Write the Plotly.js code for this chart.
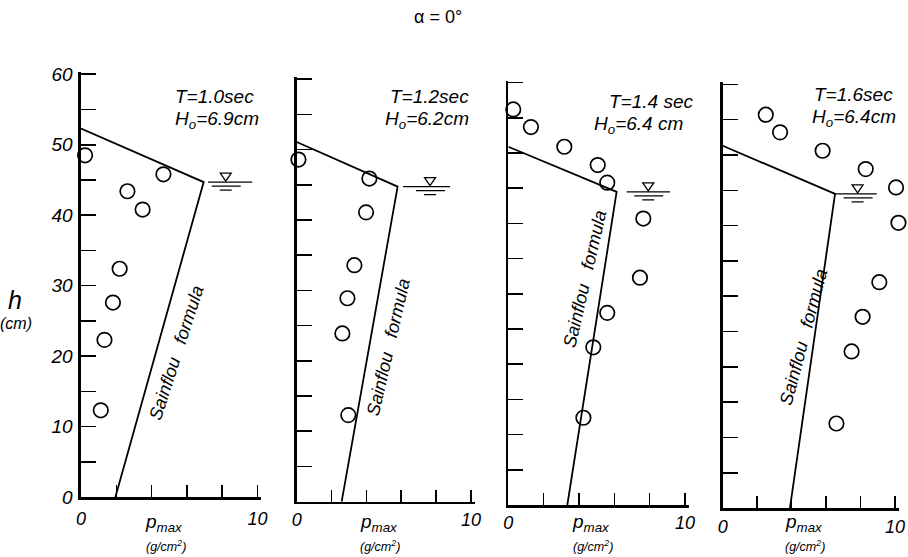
<!DOCTYPE html>
<html><head><meta charset="utf-8">
<script src="https://cdn.plot.ly/plotly-3.0.1.min.js"></script>
<style>html,body{margin:0;padding:0;background:#fff}</style>
</head><body><div id="chart" style="width:908px;height:557px"></div>
<script>
// ---- data ----
const chartTitle = 'α = 0°';
const periods = ['T=1.0sec', 'T=1.2sec', 'T=1.4 sec', 'T=1.6sec'];
const waveHeights = ['6.9cm', '6.2cm', '6.4 cm', '6.4cm'];
// measured maximum pressure p_max (g/cm2) at height h (cm)
const p1 = [0.23, 4.67, 2.63, 3.49, 2.19, 1.81, 1.33, 1.12];
const h1 = [48.5, 45.8, 43.4, 40.8, 32.4, 27.6, 22.3, 12.3];
const p2 = [0.1, 4.17, 3.98, 3.31, 2.91, 2.62, 2.96];
const h2 = [48.6, 45.9, 41.1, 33.6, 28.9, 23.9, 12.3];
const p3 = [0.28, 1.28, 3.17, 5.06, 5.6, 7.64, 7.45, 5.6, 4.81, 4.25];
const h3 = [56.2, 53.7, 50.9, 48.3, 45.8, 40.7, 32.3, 27.3, 22.4, 12.4];
const p4 = [2.5, 3.33, 5.8, 8.3, 10.06, 10.2, 9.09, 8.12, 7.48, 6.6];
const h4 = [55.7, 53.2, 50.6, 48.0, 45.4, 40.4, 32.0, 27.1, 22.2, 12.0];
// Sainflou formula: crest height (p=0), pressure at still-water level, pressure at bottom
const sainflouTopH = [52.3, 51.1, 50.9, 51.3];
const sainflouSwlP = [6.95, 5.79, 6.13, 6.52];
const sainflouSwlH = [44.7, 44.75, 44.5, 44.5];
const sainflouBottomP = [1.95, 2.58, 3.34, 3.9];
// still-water-level symbol
const swlLineStart = [7.2, 6.1, 6.7, 6.52];
const swlLineEnd = [9.7, 8.8, 9.15, 8.94];
const swlMark = [8.2, 7.65, 7.92, 7.83];
// axis ticks
const xTickVals = [0, 10];
const xTickText = ['0', '10'];
const xMinorStep = 2;
const yTickVals = [0, 10, 20, 30, 40, 50, 60];
const yTickText = ['0', '10', '20', '30', '40', '50', '60'];
const yMinorStep = 5;
const sainflouLabel = 'Sainflou\u00a0\u00a0\u00a0formula';

const P = [p1, p2, p3, p4];
const H = [h1, h2, h3, h4];

// ---- layout geometry (pixels on the 908x557 canvas) ----
const W = 908, HT = 557;
const panelX = [[81, 257.5], [296.7, 471], [508.3, 685], [722.7, 895]];
const panelY = [[74.3, 497], [79.3, 501.7], [82.7, 505], [84.3, 508.3]];
const tLabel = [[173, 96], [388, 96], [607, 102], [812, 95]];
const hLabel = [[173, 120], [383, 120], [592, 125], [810, 118]];
const sainPos = [[5.42, 20.4, -72], [5.26, 22.0, -77], [4.34, 32.1, -77], [4.68, 24.3, -75]];
const XMAX = 10.22, YMAX = 60.3;   // small overshoot so the end ticks and edge points are drawn

const fam = 'Liberation Sans, Arial, sans-serif';
const traces = [];
const layout = {
  width: W, height: HT,
  margin: {l: 0, r: 0, t: 0, b: 0},
  paper_bgcolor: '#fff', plot_bgcolor: 'rgba(0,0,0,0)',
  showlegend: false,
  font: {family: fam, color: '#000'},
  annotations: [], shapes: []
};

function note(o) {
  layout.annotations.push(Object.assign({showarrow: false, xanchor: 'center', yanchor: 'middle'}, o));
}

for (let i = 0; i < 4; i++) {
  const sx = i === 0 ? '' : String(i + 1);
  const xa = 'x' + sx, ya = 'y' + sx;
  const pxPerX = (panelX[i][1] - panelX[i][0]) / 10;
  const pxPerY = (panelY[i][1] - panelY[i][0]) / 60;
  layout['xaxis' + sx] = {
    domain: [panelX[i][0] / W, (panelX[i][1] + (XMAX - 10) * pxPerX) / W], range: [0, XMAX], anchor: ya,
    showline: true, linewidth: 2.6, linecolor: '#000',
    ticks: 'inside', ticklen: 12, tickwidth: 1.6, tickcolor: '#000',
    tickmode: 'array', tickvals: xTickVals, ticktext: xTickText,
    minor: {ticks: 'inside', ticklen: 12, tickwidth: 1.6, tickcolor: '#000', dtick: xMinorStep, tick0: 0, showgrid: false},
    tickfont: {size: 18, style: 'italic', family: fam, color: '#000'},
    ticklabelstandoff: Math.max(0, 514 - panelY[i][1] - 13),
    showgrid: false, zeroline: false, fixedrange: true
  };
  layout['yaxis' + sx] = {
    domain: [1 - panelY[i][1] / HT, 1 - (panelY[i][0] - (YMAX - 60) * pxPerY) / HT], range: [0, YMAX], anchor: xa,
    showline: true, linewidth: 2.6, linecolor: '#000',
    ticks: 'inside', ticklen: 15, tickwidth: 1.6, tickcolor: '#000',
    tickmode: 'array', tickvals: yTickVals, ticktext: yTickText,
    minor: {ticks: 'inside', ticklen: 15, tickwidth: 1.6, tickcolor: '#000', dtick: yMinorStep, tick0: 0, showgrid: false},
    showticklabels: i === 0, ticklabelstandoff: 2,
    tickfont: {size: 19, style: 'italic', family: fam, color: '#000'},
    showgrid: false, zeroline: false, fixedrange: true
  };
  // Sainflou line
  traces.push({
    type: 'scatter', mode: 'lines', xaxis: xa, yaxis: ya,
    x: [0, sainflouSwlP[i], sainflouBottomP[i]],
    y: [sainflouTopH[i], sainflouSwlH[i], 0],
    line: {color: '#000', width: 1.8}, cliponaxis: false, hoverinfo: 'skip'
  });
  // measurements
  traces.push({
    type: 'scatter', mode: 'markers', xaxis: xa, yaxis: ya,
    x: P[i], y: H[i],
    marker: {symbol: 'circle-open', size: 14.5, color: '#000', line: {width: 1.7, color: '#000'}},
    cliponaxis: false
  });
  // still water level symbol
  layout.shapes.push({type: 'line', xref: xa, yref: ya, x0: swlLineStart[i], x1: swlLineEnd[i],
    y0: sainflouSwlH[i], y1: sainflouSwlH[i], line: {color: '#000', width: 1.3}});
  layout.shapes.push({type: 'line', xref: xa, yref: ya, xsizemode: 'pixel', ysizemode: 'pixel',
    xanchor: swlMark[i], yanchor: sainflouSwlH[i], x0: -14, x1: 15, y0: -4, y1: -4,
    line: {color: '#000', width: 1.3}});
  layout.shapes.push({type: 'line', xref: xa, yref: ya, xsizemode: 'pixel', ysizemode: 'pixel',
    xanchor: swlMark[i], yanchor: sainflouSwlH[i], x0: -6, x1: 6, y0: -8, y1: -8,
    line: {color: '#000', width: 1.3}});
  layout.shapes.push({type: 'path', xref: xa, yref: ya, xsizemode: 'pixel', ysizemode: 'pixel',
    xanchor: swlMark[i], yanchor: sainflouSwlH[i], path: 'M -5.5,9 L 5.5,9 L 0,1 Z',
    line: {color: '#000', width: 1.3}});
  // panel labels
  note({xref: 'paper', yref: 'paper', x: tLabel[i][0] / W, y: 1 - tLabel[i][1] / HT, xanchor: 'left',
    text: periods[i], font: {size: 19, style: 'italic', family: fam}});
  note({xref: 'paper', yref: 'paper', x: hLabel[i][0] / W, y: 1 - hLabel[i][1] / HT, xanchor: 'left',
    text: 'H<sub>o</sub>=' + waveHeights[i], font: {size: 19, style: 'italic', family: fam}});
  note({xref: xa, yref: ya, x: sainPos[i][0], y: sainPos[i][1], textangle: sainPos[i][2],
    text: sainflouLabel, font: {size: 18, style: 'italic', family: fam}});
  note({xref: xa, yref: 'paper', x: 4.7, y: 1 - 523 / HT,
    text: 'p<sub>max</sub>', font: {size: 19, style: 'italic', family: fam}});
  note({xref: xa, yref: 'paper', x: 4.8, y: 1 - 546 / HT,
    text: '(g/cm<sup>2</sup>)', font: {size: 12.5, style: 'italic', family: fam}});
}
note({xref: 'paper', yref: 'paper', x: 438 / W, y: 1 - 17 / HT, text: chartTitle, font: {size: 18, family: fam}});
note({xref: 'paper', yref: 'paper', x: 15 / W, y: 1 - 300 / HT, text: 'h', font: {size: 25, style: 'italic', family: fam}});
note({xref: 'paper', yref: 'paper', x: 16 / W, y: 1 - 323 / HT, text: '(cm)', font: {size: 16, style: 'italic', family: fam}});

Plotly.newPlot('chart', traces, layout, {staticPlot: true, displayModeBar: false});
</script>
</body></html>
